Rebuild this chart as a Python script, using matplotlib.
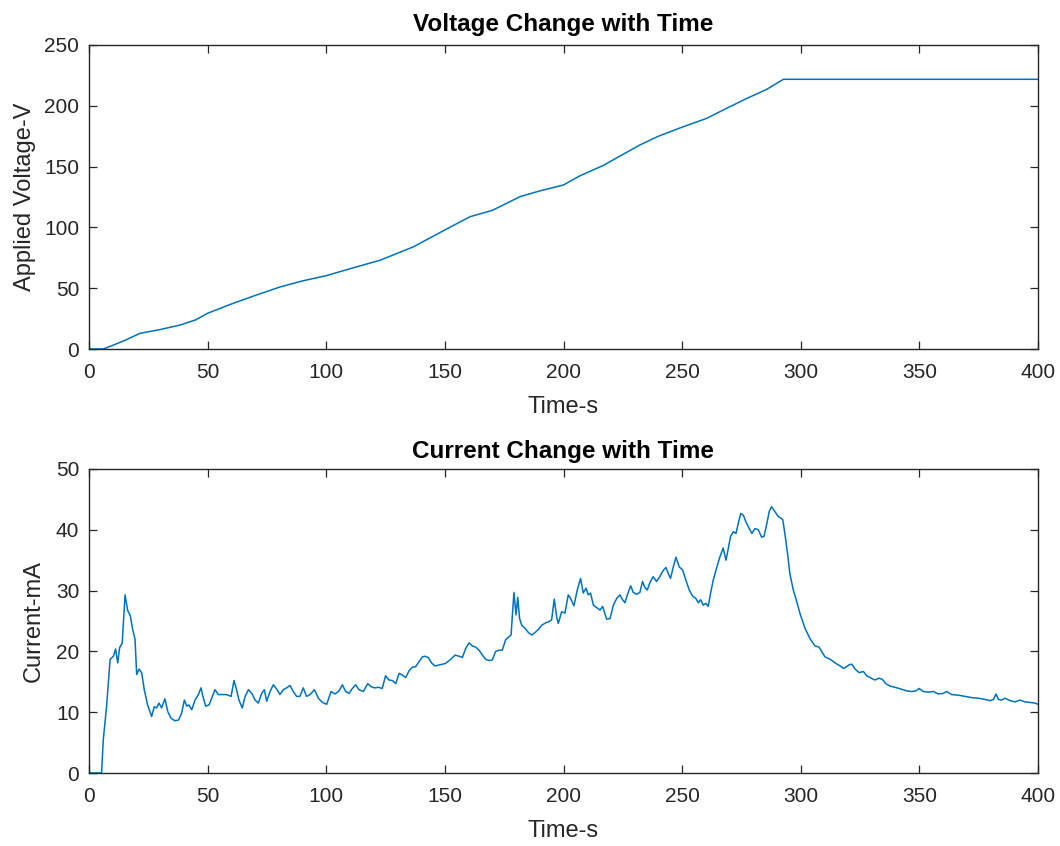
import matplotlib
matplotlib.use("Agg")
import matplotlib.pyplot as plt

plt.rcParams['font.family'] = ['Liberation Sans', 'DejaVu Sans']

# ---- Voltage data ----
t_voltage = [0, 6, 10, 15, 21.5, 30, 38.4, 45, 50, 60, 70, 80.5, 90, 100, 110,
             122.7, 136.7, 150, 160.6, 170, 181.7, 190, 200, 207, 216.8, 232.2,
             240, 250.5, 260.4, 268.8, 277.2, 285.6, 292.7, 400]
voltage = [0, 0, 3, 7, 12.9, 16, 19.7, 24, 29.4, 37, 44, 51, 56, 60.3, 66,
           73, 84, 97.9, 108.8, 114, 125.3, 130, 134.9, 142.5, 151, 167.8,
           175, 182.8, 189.7, 198, 206, 213.5, 221.8, 221.8]

# ---- Current data ----
t_current = [0, 5.3, 6, 7.4, 8.9, 10.3, 11.2, 12.1, 12.9, 14, 15.2, 16.3, 17.4, 18.4,
             19.4, 20.1, 21.1, 22.2, 23.3, 24.7, 26.4, 27.5, 28.5, 29.5, 30.6, 32,
             33.2, 34.6, 36.2, 37.7, 39, 40.2, 41.2, 42.1, 43.3, 44.7, 46.1, 47.2,
             48.2, 49.2, 50.6, 51.7, 53.1, 54.5, 56.2, 58, 59.9, 61.1, 62.2, 63.2,
             64.6, 65.8, 67.2, 68.6, 70, 71.4, 72.8, 73.9, 74.9, 76.3, 77.7, 79.1,
             80.5, 81.9, 83.3, 84.7, 86.1, 87.5, 88.9, 90.3, 91.7, 93.2, 95, 96.7,
             98.4, 100.2, 102, 103.7, 105.4, 106.8, 108.2, 109.6, 111, 112.4, 113.8,
             115.6, 117.5, 118.9, 120.3, 122, 123.6, 125, 126.4, 127.9, 129.3,
             130.7, 132.1, 133.5, 134.9, 136.3, 137.7, 139.1, 140.5, 141.6, 143,
             144.4, 145.8, 148, 150.1, 152.2, 154.3, 156, 157.4, 158.8, 160.2,
             161.6, 163, 164.4, 165.8, 167.2, 168.6, 170, 171.4, 172.8, 174.2,
             175.6, 176.7, 177.9, 178.4, 179.1, 180, 180.7, 181.5, 182.4, 183.8,
             185.2, 186.6, 188, 189.4, 190.8, 192.5, 193.9, 195, 196.1, 197.1,
             197.8, 199.2, 200.6, 202, 203, 204.4, 205.8, 207.2, 208.3, 209.5,
             210.4, 211.4, 212.6, 214, 215.4, 216.5, 218.2, 219.6, 221, 222.4,
             223.8, 224.9, 225.9, 226.9, 228.3, 229.4, 230.8, 232.2, 233.3, 234.3,
             235.3, 236.4, 237.8, 239.2, 240.6, 242, 243.2, 244.2, 245.1, 246.3,
             247.4, 248.8, 250.2, 251.6, 253, 254.4, 255.8, 256.8, 257.8, 258.9,
             260, 261, 262, 263.1, 264.5, 265.9, 267.3, 268.5, 269.5, 270.4,
             271.6, 272.7, 273.7, 274.7, 275.8, 276.9, 278.3, 279.4, 280.7, 282.1,
             283.5, 284.5, 285.6, 286.7, 287.7, 289.1, 290.5, 292.4, 293.3, 294.5,
             295.4, 296.8, 298.3, 299.7, 301.8, 303.9, 306, 307.7, 308.8, 310.2,
             312.4, 314.5, 316.6, 318, 319.4, 320.4, 321.5, 322.9, 324.6, 326.4,
             327.8, 329.6, 331.3, 333, 334.4, 335.8, 337.6, 339.7, 342.3, 344.7,
             346.8, 348.5, 349.9, 351.7, 353.8, 355.9, 358, 360.1, 361.5, 363.6,
             366.4, 369.3, 372.1, 374.9, 377.7, 379.8, 381.2, 382.3, 383.3, 384.7,
             386.1, 388.2, 390.3, 392.4, 394.5, 396.7, 398.8, 400]
current = [0, 0, 5.4, 10.9, 18.7, 19.2, 20.4, 18.1, 20.6, 21.4, 29.3, 26.7, 25.9, 23.6,
           22, 16.2, 17.1, 16.5, 13.7, 11.2, 9.3, 10.9, 10.7, 11.5, 10.7, 12.2,
           10.1, 9, 8.6, 8.7, 9.8, 12, 11, 11.2, 10.4, 12, 12.9, 14,
           12.3, 11, 11.2, 12.3, 13.7, 12.9, 12.9, 12.9, 12.6, 15.2, 13.7, 12,
           10.7, 12.6, 13.7, 13.1, 12, 11.5, 13.1, 13.7, 11.8, 13.4, 14.5, 13.8,
           12.9, 13.7, 14, 14.4, 13.4, 12.6, 12.6, 14, 12.6, 12.9, 13.7, 12.3,
           11.6, 11.3, 13.4, 13, 13.5, 14.5, 13.4, 13.1, 13.9, 14.5, 13.7,
           13.4, 14.7, 14.2, 14, 14.1, 13.9, 16, 15.3, 15.2, 14.7,
           16.4, 16.1, 15.7, 16.8, 17.4, 17.5, 18.3, 19.1, 19.2, 19,
           18.1, 17.6, 17.8, 18, 18.6, 19.4, 19.2, 19, 20.5, 21.4,
           20.9, 20.7, 20.2, 19.4, 18.7, 18.5, 18.6, 20, 20.2, 20.2,
           21.9, 22.3, 22.7, 25.7, 29.7, 26, 28.9, 25.4, 24.3, 23.8,
           23.1, 22.7, 23.1, 23.6, 24.3, 24.7, 24.9, 25.2, 28.6, 25.7,
           24.6, 26.5, 26.3, 29.3, 28.7, 27.5, 30.1, 32, 29.6, 30.4,
           29.3, 29.6, 27.6, 27.2, 26.8, 27.4, 25.3, 25.4, 27.6, 28.7,
           29.3, 28.5, 28, 29.3, 30.8, 29.7, 29.4, 29.7, 31.5, 30.5,
           30.1, 31.3, 32.3, 31.5, 32.3, 33.3, 33.8, 32.8, 32, 33.9,
           35.5, 33.9, 33.4, 31.7, 30.1, 29.1, 28.7, 28, 28.5, 27.6,
           27.9, 27.4, 29.6, 31.7, 33.7, 35.5, 37, 35, 37, 38.9,
           39.7, 39.4, 41.1, 42.7, 42.4, 41.3, 40.2, 39.4, 40.2, 40,
           38.8, 38.9, 40.8, 43, 43.8, 43, 42.2, 41.7, 39.4, 35.9,
           32.8, 30.2, 28.2, 26.2, 23.8, 22.1, 20.9, 20.7, 20, 19.1,
           18.7, 18.1, 17.6, 17.2, 17.5, 17.8, 17.9, 17.1, 16.5, 16.7,
           16, 15.6, 15.3, 15.6, 15.4, 14.7, 14.3, 14.1, 13.8, 13.5,
           13.4, 13.5, 13.9, 13.4, 13.3, 13.4, 13, 13.1, 13.4, 12.9,
           12.8, 12.6, 12.4, 12.3, 12.1, 11.9, 12.1, 13, 12.1, 12,
           12.3, 11.9, 11.7, 12, 11.7, 11.6, 11.5, 11.3]

line_color = '#0072BD'
axis_color = '#262626'

fig = plt.figure(figsize=(10.6, 8.46), dpi=100)
ax1 = fig.add_axes([89/1060, 1-349/846, (1038-89)/1060, (349-45)/846])
ax2 = fig.add_axes([89/1060, 1-773/846, (1038-89)/1060, (773-469)/846])

def style(ax):
    for s in ax.spines.values():
        s.set_color(axis_color)
        s.set_linewidth(1.0)
    ax.tick_params(direction='in', length=6, width=0.9, colors=axis_color,
                   labelsize=15, top=True, right=True, pad=7)
    ax.tick_params(axis='x', pad=10)
    ax.set_xlim(0, 400)
    ax.set_xticks([0, 50, 100, 150, 200, 250, 300, 350, 400])

ax1.plot(t_voltage, voltage, color=line_color, lw=1.1)
style(ax1)
ax1.set_ylim(0, 250)
ax1.set_yticks([0, 50, 100, 150, 200, 250])
ax1.set_title('Voltage Change with Time', fontsize=17.5, fontweight='bold',
              color='black', pad=10)
ax1.set_xlabel('Time-s', fontsize=17, color=axis_color, labelpad=10)
ax1.set_ylabel('Applied Voltage-V', fontsize=17, color=axis_color, labelpad=6)

ax2.plot(t_current, current, color=line_color, lw=1.1)
style(ax2)
ax2.set_ylim(0, 50)
ax2.set_yticks([0, 10, 20, 30, 40, 50])
ax2.set_title('Current Change with Time', fontsize=17.5, fontweight='bold',
              color='black', pad=8)
ax2.set_xlabel('Time-s', fontsize=17, color=axis_color, labelpad=10)
ax2.set_ylabel('Current-mA', fontsize=17, color=axis_color, labelpad=8)

fig.savefig('out.png', dpi=100, facecolor='white')
